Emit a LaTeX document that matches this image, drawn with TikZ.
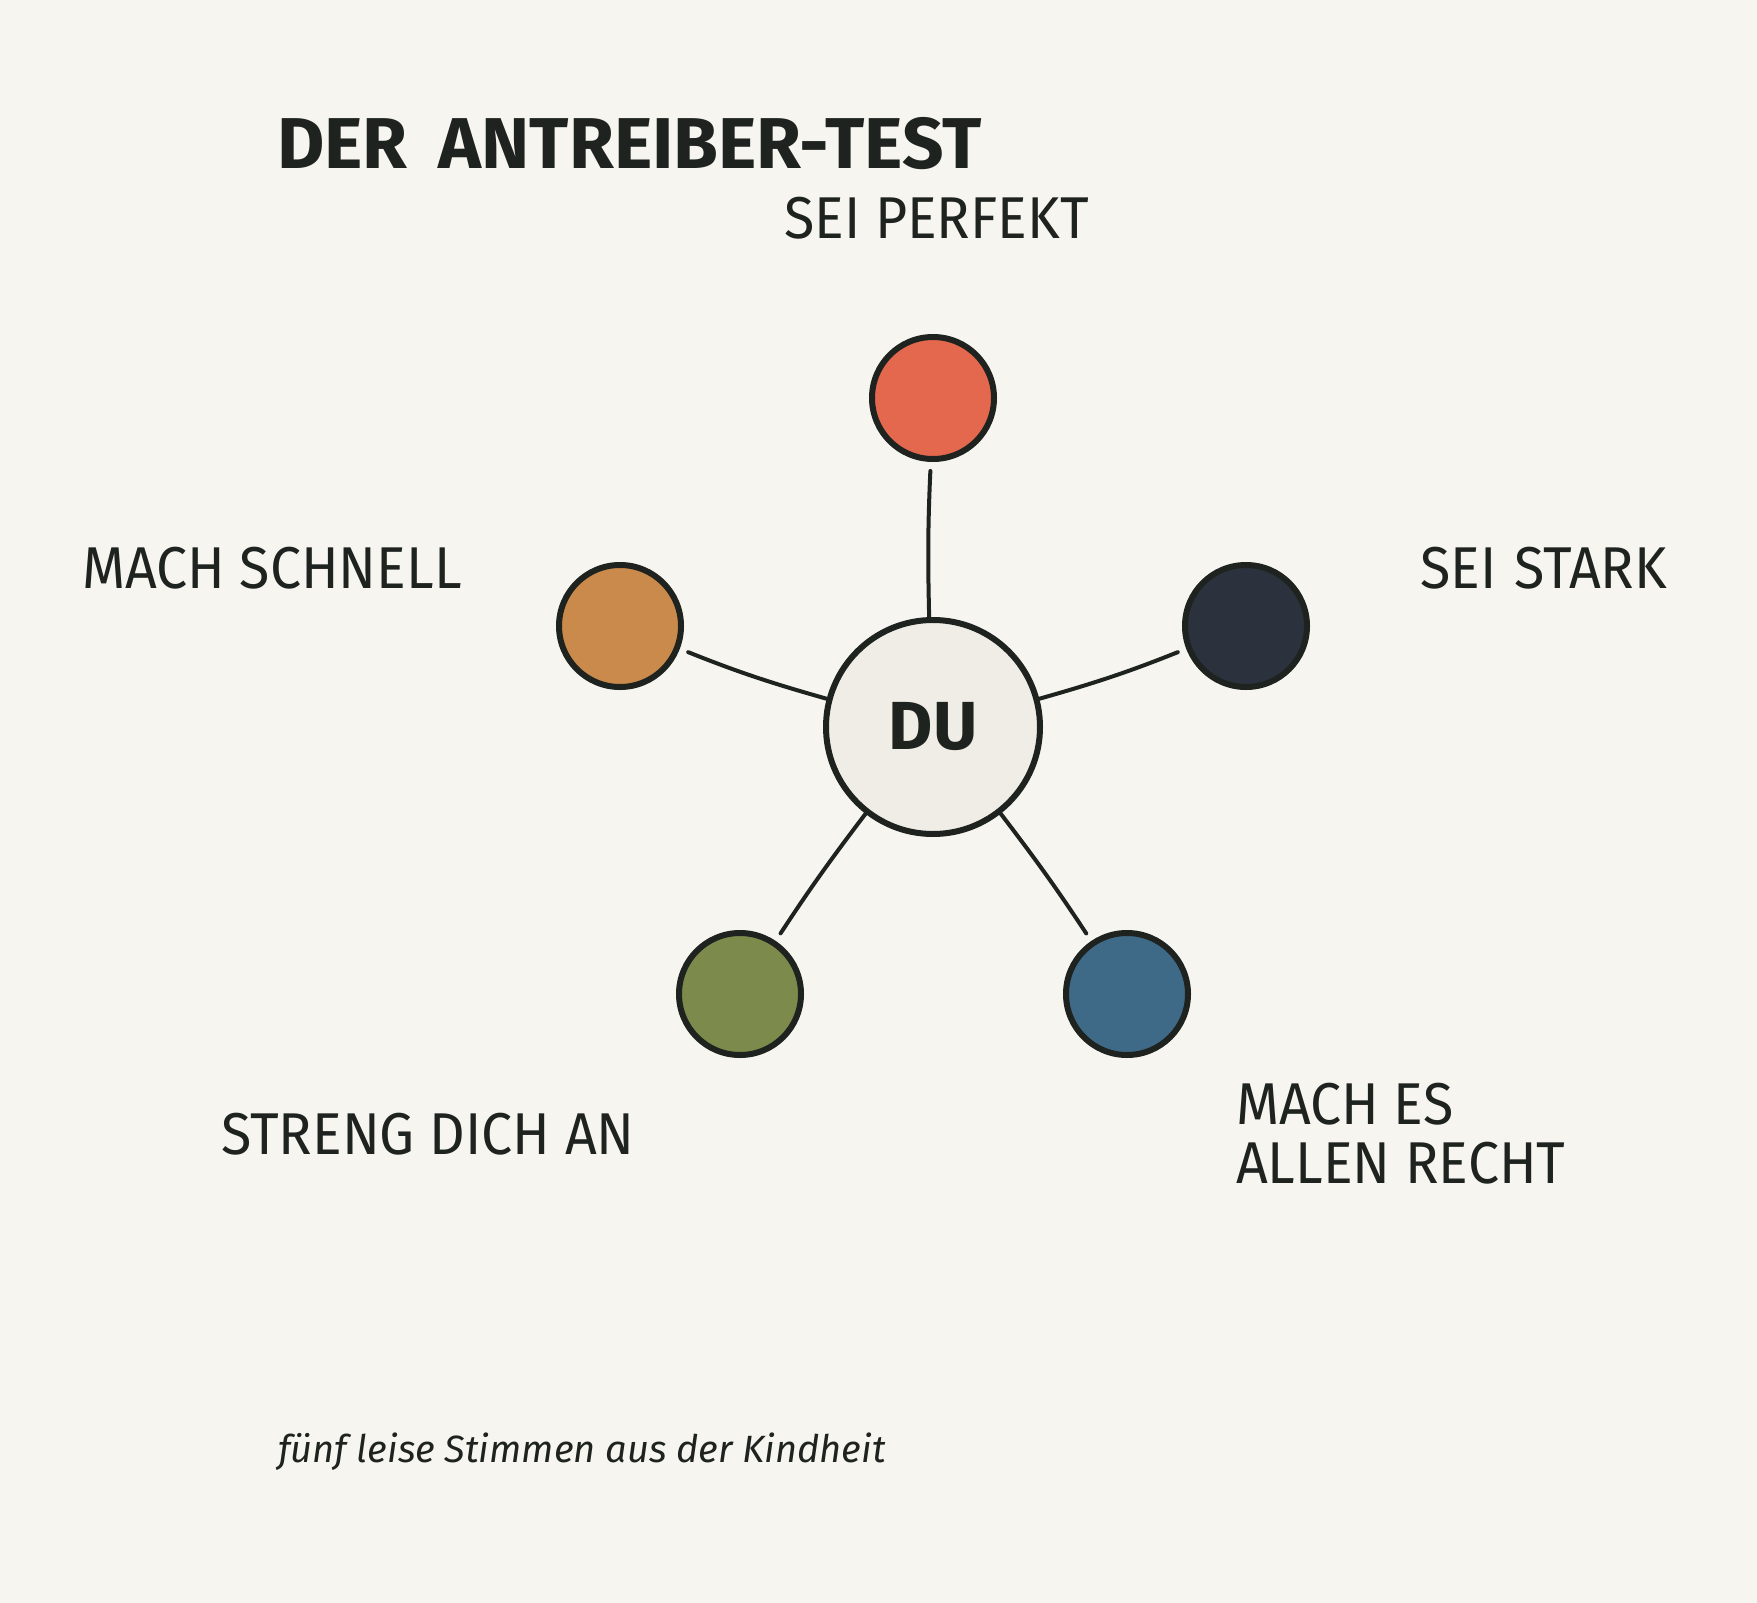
\documentclass[tikz,border=0pt]{standalone}
\usepackage{fontspec}
\setmainfont{Fira Sans}
\newfontfamily\labelfont[FakeStretch=0.94]{Fira Sans}
\newfontfamily\titlefont[FakeStretch=1.01]{Fira Sans}
\definecolor{bgc}{HTML}{F6F5F0}
\definecolor{ink}{HTML}{1E2320}
\definecolor{hubfill}{HTML}{F0EDE6}
\definecolor{cred}{HTML}{E4684D}
\definecolor{cdark}{HTML}{2B323D}
\definecolor{corange}{HTML}{C98A4B}
\definecolor{cgreen}{HTML}{7C8B4B}
\definecolor{cblue}{HTML}{3F6A87}
\tikzset{
  hub/.style={circle, draw=ink, line width=6pt, fill=hubfill, minimum size=214pt, inner sep=0pt,
    text=ink, font=\fontsize{68}{68}\selectfont\bfseries},
  dot/.style={circle, draw=ink, line width=6pt, minimum size=122pt, inner sep=0pt},
  link/.style={draw=ink, line width=4pt, line cap=round, shorten >=9pt},
  lbl/.style={anchor=base west, inner sep=0pt, text=ink, font=\labelfont\fontsize{59}{59}\selectfont},
  ttl/.style={anchor=base west, inner sep=0pt, text=ink, font=\titlefont\fontsize{72}{72}\selectfont\bfseries},
  note/.style={anchor=base west, inner sep=0pt, text=ink, font=\fontsize{38}{38}\selectfont\itshape}
}
\begin{document}
\begin{tikzpicture}[x=1pt,y=-1pt]
\fill[bgc] (0,0) rectangle (1757,1603);
\useasboundingbox (0,0) rectangle (1757,1603);

\node[ttl] (title) at (277,168) {DER\hspace{14pt} ANTREIBER-TEST};

\node[hub] (du) at (933,727) {DU};
\node[dot, fill=cred] (perfekt) at (933,398) {};
\node[dot, fill=corange] (schnell) at (620,626) {};
\node[dot, fill=cdark] (stark) at (1246,626) {};
\node[dot, fill=cgreen] (streng) at (740,994) {};
\node[dot, fill=cblue] (recht) at (1127,994) {};

\draw[link] (du) to[bend left=2] (perfekt);
\draw[link] (du) to[bend left=3] (schnell);
\draw[link] (du) to[bend right=3] (stark);
\draw[link] (du) to[bend right=2] (streng);
\draw[link] (du) to[bend left=2] (recht);

\node[lbl] (lperfekt) at (784,238) {SEI PERFEKT};
\node[lbl] (lschnell) at (82,588) {MACH SCHNELL};
\node[lbl] (lstark) at (1420,588) {SEI\hspace{3pt} STARK};
\node[lbl] (lstreng) at (221,1154) {STRENG DICH AN};
\node[lbl] (lrecht1) at (1236,1124) {MACH ES};
\node[lbl] (lrecht2) at (1236,1183) {ALLEN RECHT};

\node[note] (footnote) at (278,1462) {fünf leise Stimmen aus der Kindheit};
\end{tikzpicture}
\end{document}
